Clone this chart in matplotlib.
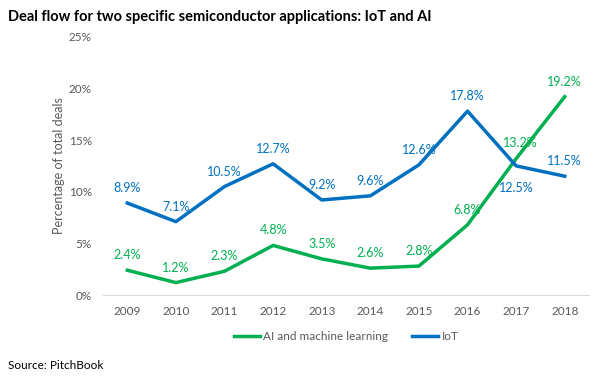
import matplotlib
matplotlib.use('Agg')
import matplotlib.pyplot as plt
from matplotlib.ticker import FuncFormatter

years = ['2009', '2010', '2011', '2012', '2013', '2014', '2015', '2016', '2017', '2018']
ai = [2.4, 1.2, 2.3, 4.8, 3.5, 2.6, 2.8, 6.8, 13.2, 19.2]
iot = [8.9, 7.1, 10.5, 12.7, 9.2, 9.6, 12.6, 17.8, 12.5, 11.5]

green = '#00b050'
blue = '#0070c0'
grey = '#595959'

plt.rcParams['font.family'] = ['Lato', 'DejaVu Sans']

fig = plt.figure(figsize=(6.06, 3.77), dpi=100)
ax = fig.add_axes([0.170, 0.2175, 0.802, 0.685])
x = list(range(len(years)))
ax.plot(x, ai, color=green, lw=2.5, label='AI and machine learning')
ax.plot(x, iot, color=blue, lw=2.5, label='IoT')

for i, v in enumerate(iot):
    dy = -22 if i == 8 else 15
    ax.annotate('%.1f%%' % v, (i, v), textcoords='offset pixels', xytext=(0, dy),
                ha='center', va='center', color=blue, fontsize=9)
for i, v in enumerate(ai):
    dx, dy = (0, 15)
    if i == 8:
        dx, dy = (4, 16)
    ax.annotate('%.1f%%' % v, (i, v), textcoords='offset pixels', xytext=(dx, dy),
                ha='center', va='center', color=green, fontsize=9)

ax.set_xlim(-0.5, len(years) - 0.5)
ax.set_ylim(0, 25)
ax.set_xticks(x)
ax.set_xticklabels(years)
ax.set_yticks([0, 5, 10, 15, 20, 25])
ax.yaxis.set_major_formatter(FuncFormatter(lambda v, p: '%d%%' % v))
ax.tick_params(length=0, colors=grey, labelsize=8.5, pad=8)
ax.tick_params(axis='y', pad=8)
for s in ['top', 'right', 'left']:
    ax.spines[s].set_visible(False)
ax.spines['bottom'].set_color('#d9d9d9')
ax.set_ylabel('Percentage of total deals', color=grey, fontsize=9, labelpad=3)

ax.legend(loc='upper center', bbox_to_anchor=(0.5, -0.1), ncol=2, frameon=False,
          fontsize=8.5, labelcolor=grey, handlelength=2.2, handletextpad=0.3, columnspacing=2)

fig.text(0.013, 0.955, 'Deal flow for two specific semiconductor applications: IoT and AI',
         fontsize=10.5, fontweight='bold', va='center')
fig.text(0.013, 0.03, 'Source: PitchBook', fontsize=8.5, va='center')

plt.savefig('out.png', dpi=100)
